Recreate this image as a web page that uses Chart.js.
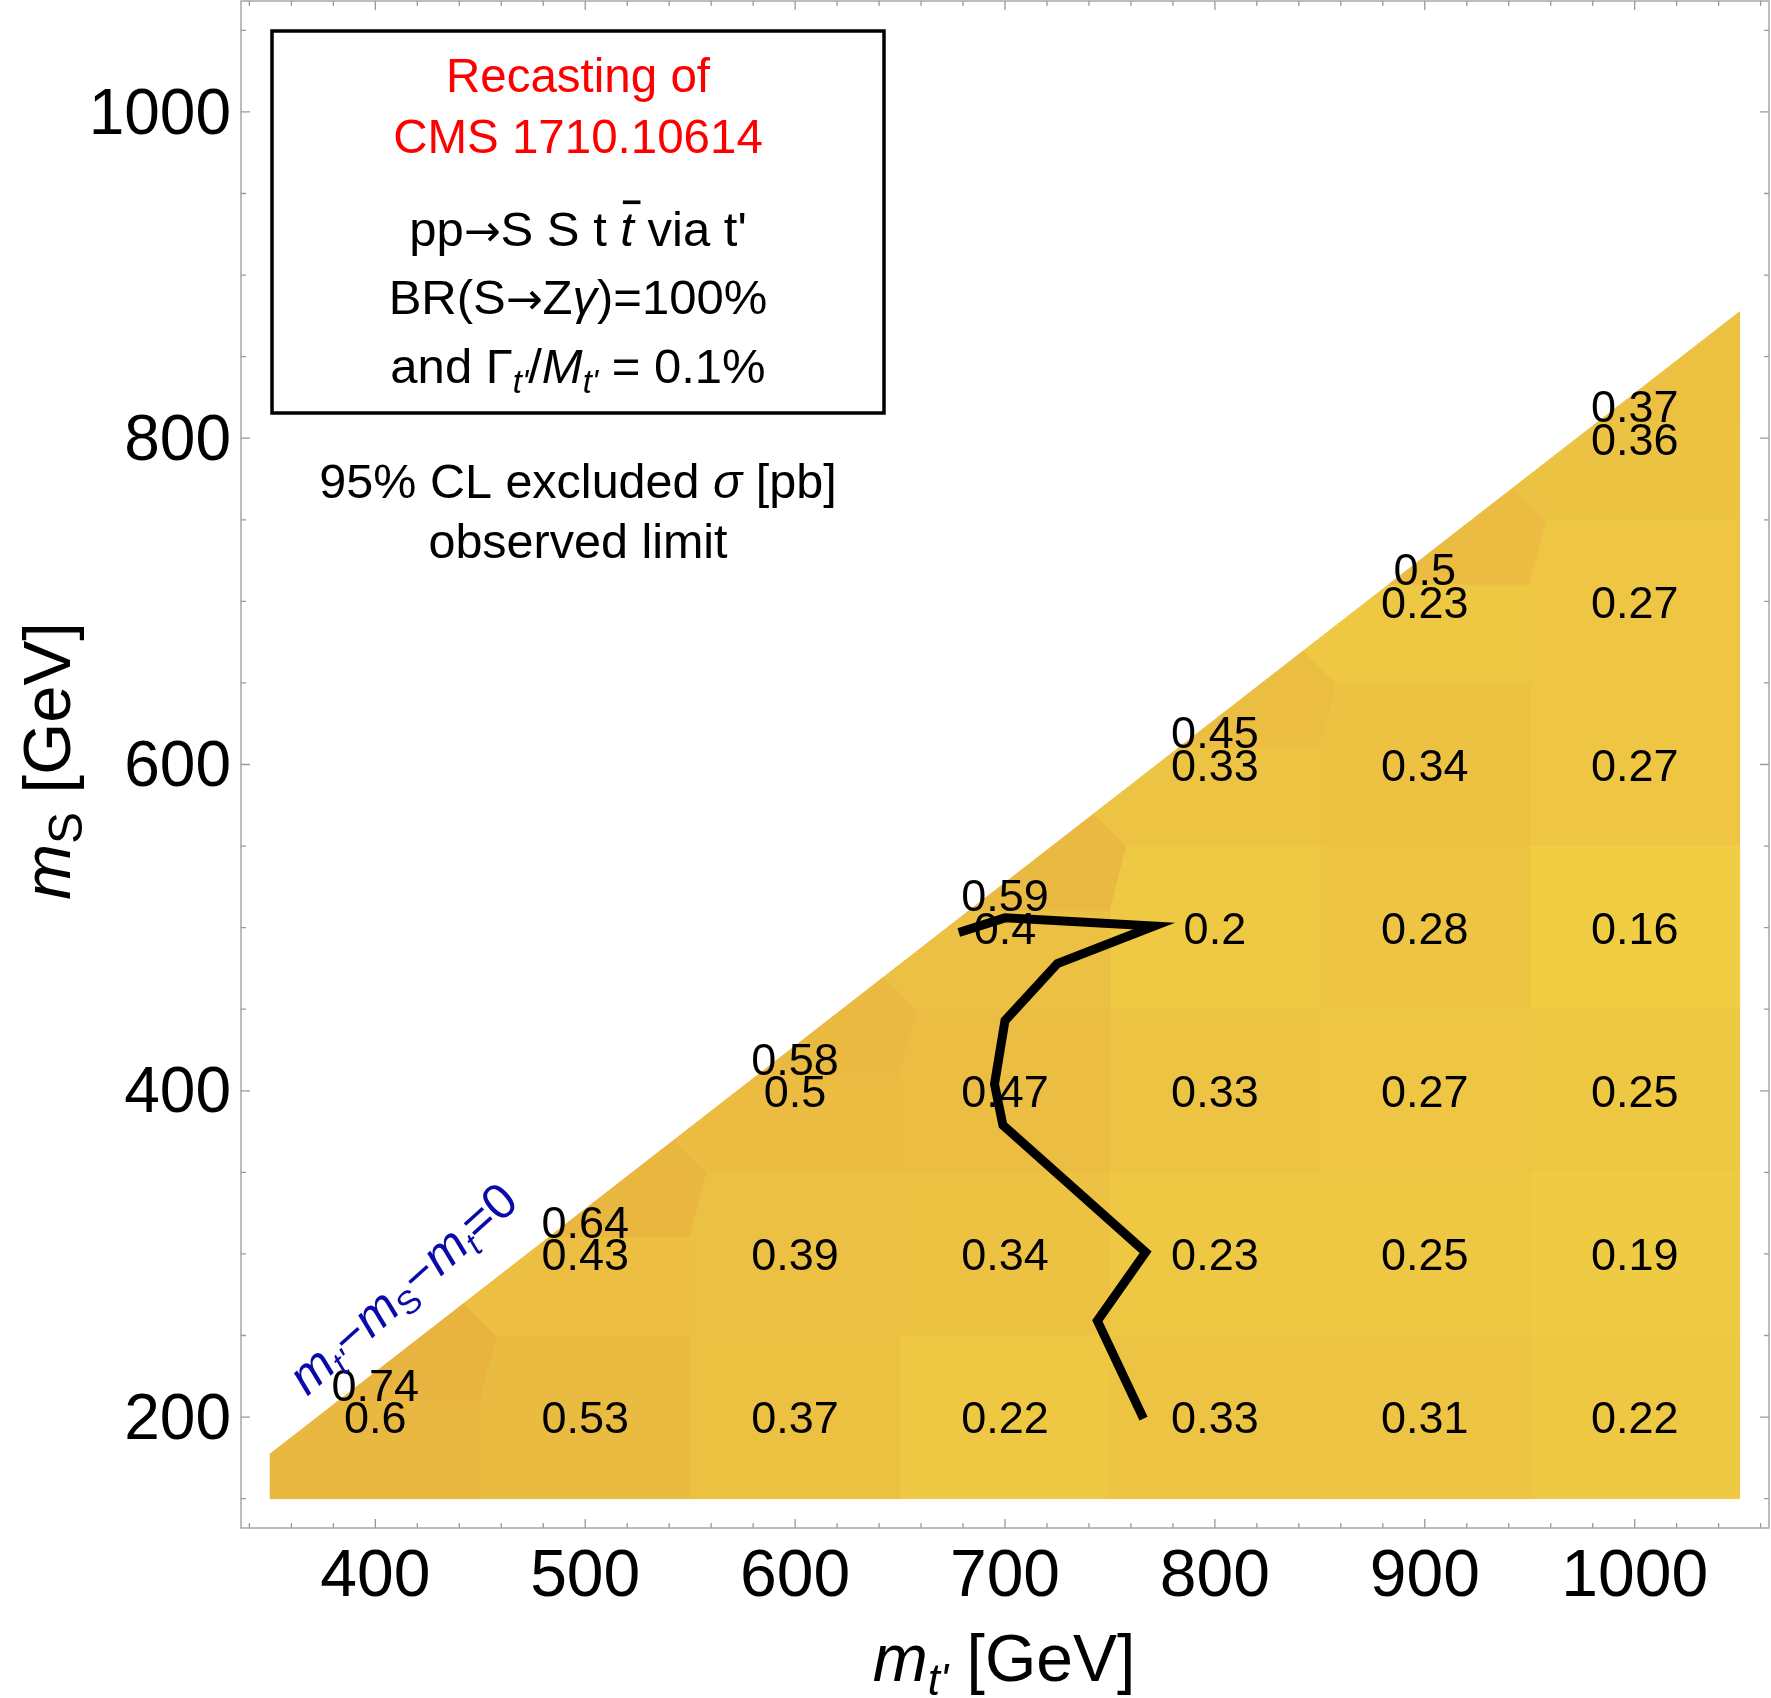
<!DOCTYPE html>
<html>
<head>
<meta charset="utf-8">
<script src="https://cdn.jsdelivr.net/npm/chart.js@4.4.0/dist/chart.umd.min.js"></script>
<style>
  html, body { margin: 0; padding: 0; background: #fff; }
</style>
</head>
<body>
<canvas id="chart" width="1771" height="1698"></canvas>
<script>
// scan grid: m_t' (columns) and m_S (rows), GeV
const mtp = [400, 500, 600, 700, 800, 900, 1000];
const msRows = [200, 300, 400, 500, 600, 700, 800];
// 95% CL excluded sigma [pb], null above the kinematic edge
const sigma = [
  [0.6, 0.53, 0.37, 0.22, 0.33, 0.31, 0.22],
  [null, 0.43, 0.39, 0.34, 0.23, 0.25, 0.19],
  [null, null, 0.5, 0.47, 0.33, 0.27, 0.25],
  [null, null, null, 0.4, 0.2, 0.28, 0.16],
  [null, null, null, null, 0.33, 0.34, 0.27],
  [null, null, null, null, null, 0.23, 0.27],
  [null, null, null, null, null, null, 0.36],
];
// extra points just under the edge m_t' - m_S - m_t = 0
const edgeMtp = [400, 500, 600, 700, 800, 900, 1000];
const edgeMs = [220, 320, 420, 520, 620, 720, 820];
const edgeSigma = [0.74, 0.64, 0.58, 0.59, 0.45, 0.5, 0.37];

// observed exclusion contour
const limitMtp = [678, 700, 771, 725, 700, 695, 699, 767, 744, 766];
const limitMs = [497, 506, 501, 478, 443, 404, 379, 301, 259, 199];

const mTop = 172.5;
const xRange = [350, 1050];
const yRange = [150, 1050];
const xTicks = [400, 500, 600, 700, 800, 900, 1000];
const yTicks = [200, 400, 600, 800, 1000];

// colour ramp (value -> rgb)
const rampVals = [0.16, 0.2, 0.3, 0.4, 0.55, 0.74];
const rampCols = [[240, 205, 66], [239, 201, 67], [237, 196, 67], [236, 192, 66], [234, 186, 65], [232, 180, 63]];

const FONT = '"Liberation Sans", Arial, sans-serif';
const ARROW_FONT = '"DejaVu Sans", sans-serif';

function rampColor(v) {
  let i = 0;
  while (i < rampVals.length - 2 && v > rampVals[i + 1]) i++;
  let t = (v - rampVals[i]) / (rampVals[i + 1] - rampVals[i]);
  t = Math.max(0, Math.min(1, t));
  const c = rampCols[i].map((a, k) => Math.round(a + t * (rampCols[i + 1][k] - a)));
  return `rgb(${c[0]},${c[1]},${c[2]})`;
}

// all points
const pts = [];
msRows.forEach((ms, r) => mtp.forEach((m, c) => {
  if (sigma[r][c] != null) pts.push({ x: m, y: ms, v: sigma[r][c] });
}));
edgeMtp.forEach((m, i) => pts.push({ x: m, y: edgeMs[i], v: edgeSigma[i] }));

// nearest-point cells inside the allowed region
const region = [
  { x: xRange[0], y: yRange[0] }, { x: xRange[1], y: yRange[0] },
  { x: xRange[1], y: xRange[1] - mTop }, { x: xRange[0], y: xRange[0] - mTop },
];

function clip(poly, a, b) {
  const nx = b.x - a.x, ny = b.y - a.y;
  const c = (b.x * b.x + b.y * b.y - a.x * a.x - a.y * a.y) / 2;
  const f = p => nx * p.x + ny * p.y - c;
  const out = [];
  for (let i = 0; i < poly.length; i++) {
    const p = poly[i], q = poly[(i + 1) % poly.length];
    const fp = f(p), fq = f(q);
    if (fp <= 0) out.push(p);
    if ((fp < 0 && fq > 0) || (fp > 0 && fq < 0)) {
      const t = fp / (fp - fq);
      out.push({ x: p.x + t * (q.x - p.x), y: p.y + t * (q.y - p.y) });
    }
  }
  return out;
}

function cellOf(p) {
  let poly = region.slice();
  pts.forEach(q => { if (q !== p) poly = clip(poly, p, q); });
  return poly;
}

const datasets = [];
datasets.push({
  data: limitMtp.map((x, i) => ({ x, y: limitMs[i] })),
  showLine: true,
  fill: false,
  borderColor: '#000',
  borderWidth: 9,
  borderJoinStyle: 'miter',
  pointRadius: 0,
  order: 0,
});
const lineIndex = 0;
pts.forEach(p => {
  const poly = cellOf(p);
  const col = rampColor(p.v);
  datasets.push({
    data: [...poly, poly[0]],
    showLine: true,
    fill: 'shape',
    backgroundColor: col,
    borderColor: col,
    borderWidth: 1,
    pointRadius: 0,
    order: 1,
  });
});

function runFont(r) {
  return `${r.italic ? 'italic ' : ''}${r.size}px ${r.family || FONT}`;
}

function drawRuns(ctx, runs, cx, baseY) {
  let total = 0;
  runs.forEach(r => { ctx.font = runFont(r); r.w = ctx.measureText(r.t).width; total += r.w; });
  let x = cx - total / 2;
  ctx.textAlign = 'left';
  ctx.textBaseline = 'alphabetic';
  runs.forEach(r => {
    ctx.font = runFont(r);
    ctx.fillText(r.t, x, baseY + (r.dy || 0));
    // overbar for the anti-top
    if (r.bar) ctx.fillRect(x + r.size * 0.05, baseY - r.size * 0.93, r.size * 0.36, r.size * 0.075);
    x += r.w;
  });
}

const decor = {
  id: 'decor',
  beforeDatasetDraw(chart, args) {
    if (args.index !== lineIndex) return;
    const { ctx, scales: { x, y } } = chart;
    ctx.save();
    ctx.font = `45px ${FONT}`;
    ctx.fillStyle = '#000';
    ctx.textAlign = 'center';
    ctx.textBaseline = 'middle';
    pts.forEach(p => ctx.fillText(String(p.v), x.getPixelForValue(p.x), y.getPixelForValue(p.y) + 4));
    ctx.restore();
  },
  afterDraw(chart) {
    const { ctx, chartArea: a, scales: { x, y } } = chart;
    ctx.save();

    // frame with inward ticks
    ctx.strokeStyle = '#9a9a9a';
    ctx.lineWidth = 1.3;
    ctx.strokeRect(a.left, a.top, a.right - a.left, a.bottom - a.top);
    ctx.beginPath();
    for (let v = 340; v <= 1060; v += 20) {
      const px = x.getPixelForValue(v);
      const len = v % 100 === 0 ? 9 : 5;
      ctx.moveTo(px, a.bottom); ctx.lineTo(px, a.bottom - len);
      ctx.moveTo(px, a.top); ctx.lineTo(px, a.top + len);
    }
    for (let v = 150; v <= 1050; v += 50) {
      const py = y.getPixelForValue(v);
      const len = v % 200 === 0 ? 9 : 5;
      ctx.moveTo(a.left, py); ctx.lineTo(a.left + len, py);
      ctx.moveTo(a.right, py); ctx.lineTo(a.right - len, py);
    }
    ctx.stroke();

    // label box
    ctx.strokeStyle = '#000';
    ctx.lineWidth = 3.5;
    ctx.strokeRect(272, 31, 612, 382);
    const cx = 578;
    ctx.fillStyle = '#ff0000';
    drawRuns(ctx, [{ t: 'Recasting of', size: 47.5 }], cx, 92);
    drawRuns(ctx, [{ t: 'CMS 1710.10614', size: 47.5 }], cx, 153);
    ctx.fillStyle = '#000';
    drawRuns(ctx, [
      { t: 'pp', size: 49 },
      { t: '\u2192', size: 44, family: ARROW_FONT },
      { t: 'S S t ', size: 49 },
      { t: 't', size: 49, italic: true, bar: true },
      { t: ' via t\'', size: 49 },
    ], cx, 246);
    drawRuns(ctx, [
      { t: 'BR(S', size: 49 },
      { t: '\u2192', size: 44, family: ARROW_FONT },
      { t: 'Z', size: 49 },
      { t: '\u03b3', size: 49, italic: true },
      { t: ')=100%', size: 49 },
    ], cx, 314);
    drawRuns(ctx, [
      { t: 'and \u0393', size: 49 },
      { t: 't\'', size: 33, italic: true, dy: 10 },
      { t: '/', size: 49 },
      { t: 'M', size: 49, italic: true },
      { t: 't\'', size: 33, italic: true, dy: 10 },
      { t: ' = 0.1%', size: 49 },
    ], cx, 383);
    drawRuns(ctx, [
      { t: '95% CL excluded ', size: 48.5 },
      { t: '\u03c3', size: 48.5, italic: true },
      { t: ' [pb]', size: 48.5 },
    ], cx, 498);
    drawRuns(ctx, [{ t: 'observed limit', size: 48.5 }], cx, 558);

    // axis titles
    drawRuns(ctx, [
      { t: 'm', size: 66, italic: true },
      { t: 't\'', size: 44, italic: true, dy: 14 },
      { t: ' [GeV]', size: 66 },
    ], 1004, 1681);
    ctx.save();
    ctx.translate(70, 761);
    ctx.rotate(-Math.PI / 2);
    drawRuns(ctx, [
      { t: 'm', size: 67, italic: true },
      { t: 'S', size: 48, dy: 12 },
      { t: ' [GeV]', size: 67 },
    ], 0, 0);
    ctx.restore();

    // kinematic edge label
    ctx.save();
    ctx.fillStyle = '#0a0aa8';
    ctx.translate(x.getPixelForValue(413), y.getPixelForValue(279));
    ctx.rotate(-42 * Math.PI / 180);
    drawRuns(ctx, [
      { t: 'm', size: 50, italic: true },
      { t: 't\'', size: 33, italic: true, dy: 9 },
      { t: '\u2212', size: 50 },
      { t: 'm', size: 50, italic: true },
      { t: 'S', size: 33, dy: 9 },
      { t: '\u2212', size: 50 },
      { t: 'm', size: 50, italic: true },
      { t: 't', size: 33, italic: true, dy: 9 },
      { t: '=0', size: 50 },
    ], 0, 17);
    ctx.restore();

    ctx.restore();
  },
};

const xPad = 0.02 * (xRange[1] - xRange[0]);
const yPad = 0.02 * (yRange[1] - yRange[0]);

new Chart(document.getElementById('chart'), {
  type: 'scatter',
  data: { datasets },
  options: {
    responsive: false,
    animation: false,
    devicePixelRatio: 1,
    layout: { padding: { top: 1, right: 2, left: 0, bottom: 0 } },
    plugins: { legend: { display: false }, tooltip: { enabled: false } },
    scales: {
      x: {
        type: 'linear',
        min: xRange[0] - xPad,
        max: xRange[1] + xPad,
        afterBuildTicks: s => { s.ticks = xTicks.map(v => ({ value: v })); },
        afterFit: s => { s.height = 170; s.paddingLeft = 0; s.paddingRight = 0; },
        grid: { display: false, drawTicks: false },
        border: { display: false },
        ticks: {
          font: { family: FONT, size: 66 },
          color: '#000',
          padding: 10,
          maxRotation: 0,
          autoSkip: false,
          callback: v => String(v),
        },
      },
      y: {
        type: 'linear',
        min: yRange[0] - yPad,
        max: yRange[1] + yPad,
        afterBuildTicks: s => { s.ticks = yTicks.map(v => ({ value: v })); },
        afterFit: s => { s.width = 241; s.paddingTop = 0; s.paddingBottom = 0; },
        grid: { display: false, drawTicks: false },
        border: { display: false },
        ticks: {
          font: { family: FONT, size: 64 },
          color: '#000',
          padding: 10,
          labelOffset: 4,
          autoSkip: false,
          callback: v => String(v),
        },
      },
    },
  },
  plugins: [decor],
});
</script>
</body>
</html>
